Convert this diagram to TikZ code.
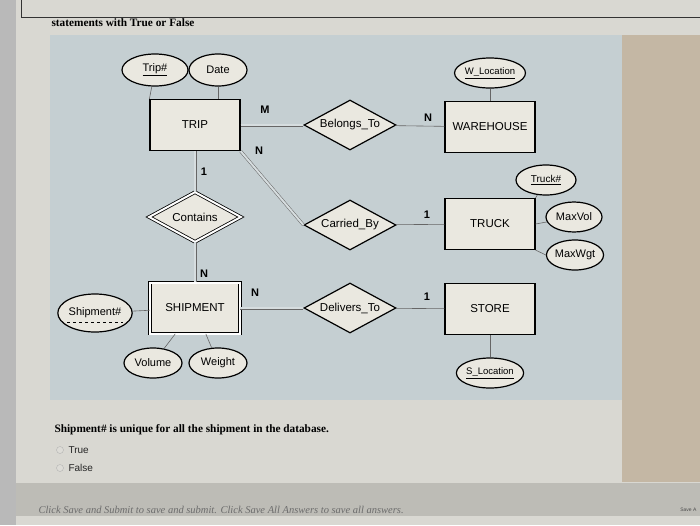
\documentclass[tikz,border=0pt]{standalone}
\usepackage{fontspec}
\setmainfont{Liberation Serif}
\setsansfont{Liberation Sans}
\usetikzlibrary{shapes.geometric}
\definecolor{pagebg}{HTML}{D9D8D2}
\definecolor{panelbg}{HTML}{C5CFD2}
\definecolor{tanbg}{HTML}{C4B7A4}
\definecolor{boxfill}{HTML}{EAE8E0}
\definecolor{barbg}{HTML}{BDBCB6}
\tikzset{
  entity/.style={draw=black,line width=1.2pt,fill=boxfill,minimum width=90pt,minimum height=51pt,font=\sffamily\fontsize{11.5}{13}\selectfont},
  weakentity/.style={entity,double,double distance=2pt,line width=0.8pt},
  rel/.style={diamond,aspect=1.85,draw=black,line width=1.2pt,fill=boxfill,inner sep=0pt,minimum width=92pt,minimum height=50pt,font=\sffamily\fontsize{11.5}{13}\selectfont},
  weakrel/.style={rel,double,double distance=2pt,line width=0.8pt},
  attr/.style={ellipse,draw=black,line width=1.2pt,fill=boxfill,minimum width=58pt,minimum height=30pt,inner sep=0pt,font=\sffamily\fontsize{11}{13}\selectfont},
  link/.style={draw=gray!80!black,line width=0.6pt},
  dlink/.style={draw=gray!80!black,line width=0.5pt,double=panelbg!70!white,double distance=2pt},
  card/.style={font=\sffamily\bfseries\fontsize{11}{13}\selectfont}
}
\begin{document}
\begin{tikzpicture}[x=1pt,y=-1pt]
  \useasboundingbox (0,0) rectangle (700,525);
  \fill[pagebg] (0,0) rectangle (700,525);
  \fill[gray!55] (0,0) rectangle (16,525);
  \fill[tanbg] (622,35) rectangle (700,482);
  \fill[panelbg] (50,35) rectangle (622,400);
  \fill[barbg] (16,483) rectangle (700,516);
  \draw[gray!40!black,line width=0.6pt] (21,0) -- (21,17) -- (700,17);
  \node[anchor=west,font=\bfseries\fontsize{11.3}{13}\selectfont] (head) at (48,23) {statements with True or False};

  \node[entity] (trip) at (195,125) {TRIP};
  \node[rel] (belongs) at (350,125) {Belongs\_To};
  \node[entity] (wh) at (490,127) {WAREHOUSE};
  \node[weakrel] (contains) at (195,217) {Contains};
  \node[rel] (carried) at (350,225) {Carried\_By};
  \node[entity] (truck) at (490,224) {TRUCK};
  \node[weakentity] (ship) at (195,308) {SHIPMENT};
  \node[rel] (delivers) at (350,308) {Delivers\_To};
  \node[entity] (store) at (490,309) {STORE};

  \node[attr,minimum width=66pt,minimum height=32pt] (tripno) at (155,70) {\underline{Trip\#}};
  \node[attr,minimum height=32pt] (date) at (218,70) {Date};
  \node[attr,minimum width=62pt,font=\sffamily\fontsize{9.5}{11}\selectfont] (wloc) at (490,73) {\underline{W\_Location}};
  \node[attr,minimum width=60pt,font=\sffamily\fontsize{10}{12}\selectfont] (truckno) at (546,180) {\underline{Truck\#}};
  \node[attr,minimum width=56pt] (maxvol) at (574,217) {MaxVol};
  \node[attr,minimum width=56pt] (maxwgt) at (575,255) {MaxWgt};
  \node[attr,minimum width=74pt,minimum height=38pt] (shipno) at (95,313) {Shipment\#};
  \node[attr] (volume) at (153,363) {Volume};
  \node[attr] (weight) at (218,363) {Weight};
  \node[attr,minimum width=60pt,font=\sffamily\fontsize{9.5}{11}\selectfont] (sloc) at (490,373) {\underline{S\_Location}};
  \draw[dashed,line width=0.5pt] ([xshift=-28pt,yshift=-9pt]shipno.center) -- ++(56pt,0);

  \draw[dlink] (trip) -- (belongs);
  \draw[link] (belongs) -- (wh);
  \draw[dlink] (trip.south east) -- (carried.west);
  \draw[link] (carried) -- (truck);
  \draw[dlink] (trip) -- (contains);
  \draw[dlink] (contains) -- (ship);
  \draw[dlink] (ship) -- (delivers);
  \draw[link] (delivers) -- (store);

  \draw[link] (tripno) -- (trip.north west);
  \draw[link] (date) -- ([xshift=23pt]trip.north);
  \draw[link] (wloc) -- (wh);
  \draw[link] (truckno) -- (truck.north east);
  \draw[link] (maxvol) -- (truck.east);
  \draw[link] (maxwgt.west) -- (truck.south east);
  \draw[link] (shipno) -- (ship);
  \draw[link] (volume) -- (ship);
  \draw[link] (weight) -- (ship);
  \draw[link] (sloc) -- (store);

  \node[card] (m1) at (265,110) {M};
  \node[card] (n1) at (428,118) {N};
  \node[card] (n2) at (259,151) {N};
  \node[card] (o1) at (427,215) {1};
  \node[card] (o2) at (204,172) {1};
  \node[card] (n3) at (204,274) {N};
  \node[card] (n4) at (255,293) {N};
  \node[card] (o3) at (427,297) {1};

  \node[anchor=west,font=\bfseries\fontsize{11.3}{13}\selectfont] (quest) at (51,430) {Shipment\# is unique for all the shipment in the database.};
  \draw[gray!60,fill=pagebg!90!white] (60,450) circle (3.5pt);
  \draw[gray!60,fill=pagebg!90!white] (60,468) circle (3.5pt);
  \node[anchor=west,font=\sffamily\fontsize{10}{12}\selectfont,gray!30!black] (opttrue) at (65,450) {True};
  \node[anchor=west,font=\sffamily\fontsize{10}{12}\selectfont,gray!30!black] (optfalse) at (65,468) {False};
  \node[anchor=west,font=\itshape\fontsize{10.5}{12}\selectfont,gray!85!black] (foot) at (35,510) {Click Save and Submit to save and submit. Click Save All Answers to save all answers.};
  \node[anchor=east,font=\sffamily\fontsize{5}{6}\selectfont,gray!60!black] (saveall) at (700,510) {Save A};
\end{tikzpicture}
\end{document}
